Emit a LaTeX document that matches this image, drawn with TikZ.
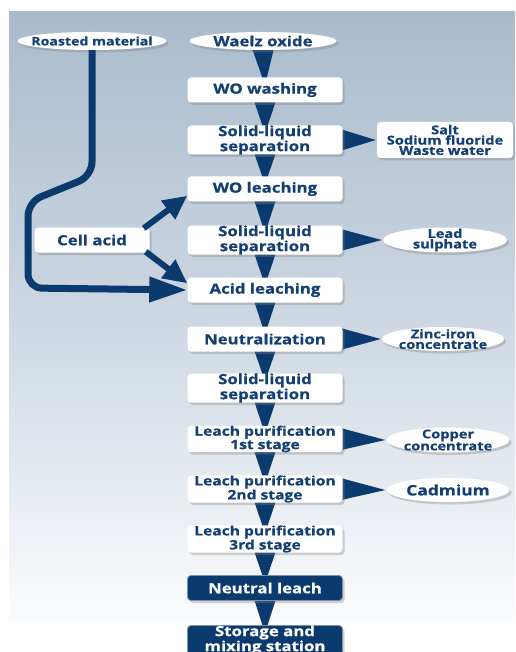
\documentclass[tikz,border=0pt]{standalone}
\usepackage{fontspec}
\setmainfont{Open Sans}[BoldFeatures={FakeBold=0.6,FakeStretch=1.2}]
\usetikzlibrary{shapes.geometric,arrows.meta,calc,shadows}
\pgfdeclarelayer{bg}
\pgfdeclarelayer{arr}
\pgfsetlayers{bg,arr,main}
\definecolor{navy}{HTML}{0B3A6E}
\definecolor{txtc}{HTML}{143F73}
\definecolor{bgtop}{HTML}{A9BBCD}
\definecolor{bgmid}{HTML}{CDD7E2}
\definecolor{bgbot}{HTML}{FBFCFD}
\tikzset{
  shd/.style={drop shadow={shadow xshift=2pt, shadow yshift=-2.5pt, opacity=0.35}},
  proc/.style={rectangle, rounded corners=3.5pt, fill=white, minimum width=155pt, minimum height=25pt,
    inner sep=0pt, align=center, text=txtc, font=\fontsize{14}{11.7}\selectfont\bfseries, shd},
  onel/.style={font=\fontsize{14}{12}\selectfont\bfseries},
  leach/.style={font=\fontsize{13}{11.5}\selectfont\bfseries},
  dproc/.style={proc, fill=navy, draw=navy!55!white, line width=0.8pt, text=white},
  oval/.style={ellipse, fill=white, inner sep=0pt, shd},
  sidetxt/.style={align=center, text=txtc, inner sep=0pt, font=\fontsize{12.2}{10.5}\selectfont\bfseries},
  sidebox/.style={rectangle, rounded corners=3.5pt, fill=white, minimum width=136pt, minimum height=36pt,
    inner sep=0pt, align=center, text=txtc, font=\fontsize{12.2}{10.3}\selectfont\bfseries, shd},
  flow/.style={navy, line width=7pt},
}
\begin{document}
\begin{tikzpicture}[x=1pt,y=-1pt]
\useasboundingbox (0,0) rectangle (515,652);
\begin{pgfonlayer}{bg}
\fill[white] (0,0) rectangle (515,652);
\shade[top color=bgtop, bottom color=bgbot, middle color=bgmid] (9,12) rectangle (515,622);
\end{pgfonlayer}

% source ovals
\node[oval, minimum width=149pt, minimum height=18pt, label={[sidetxt, font=\fontsize{11.8}{12}\selectfont\bfseries]center:Roasted material}] (ro) at (92,41) {};
\node[oval, minimum width=147pt, minimum height=18pt, label={[sidetxt, font=\fontsize{14}{12}\selectfont\bfseries]center:Waelz oxide}] (wo) at (263,41) {};

% main column
\node[proc, onel] (wash) at (265,90) {WO washing};
\node[proc] (sl1) at (265,140) {Solid-liquid\\separation};
\node[proc, onel] (wol) at (265,189) {WO leaching};
\node[proc] (sl2) at (265,240) {Solid-liquid\\separation};
\node[proc, onel] (acid) at (265,290) {Acid leaching};
\node[proc, onel] (neut) at (265,339) {Neutralization};
\node[proc] (sl3) at (265,388) {Solid-liquid\\separation};
\node[proc, leach] (lp1) at (265,439) {Leach purification\\1st stage};
\node[proc, leach] (lp2) at (265,489) {Leach purification\\2nd stage};
\node[proc, leach] (lp3) at (265,539) {Leach purification\\3rd stage};
\node[dproc, onel] (nl) at (265,588) {Neutral leach};
\node[dproc, font=\fontsize{14}{11.5}\selectfont\bfseries] (st) at (265,640) {Storage and\\mixing station};

% side outputs
\node[sidebox] (salt) at (445,140) {Salt\\Sodium fluoride\\Waste water};
\node[oval, minimum width=124pt, minimum height=25pt, label={[sidetxt]center:Lead\\sulphate}] (lead) at (445,240) {};
\node[oval, minimum width=122pt, minimum height=24pt, label={[sidetxt]center:Zinc-iron\\concentrate}] (zinc) at (443,339) {};
\node[oval, minimum width=123pt, minimum height=25pt, label={[sidetxt]center:Copper\\concentrate}] (copper) at (448,440) {};
\node[oval, minimum width=123pt, minimum height=24pt, label={[sidetxt, font=\fontsize{14.5}{12}\selectfont\bfseries]center:Cadmium}] (cad) at (448,490) {};

% cell acid
\node[proc, onel, minimum width=115pt] (cell) at (92,240) {Cell acid};

\begin{pgfonlayer}{arr}
% down arrows (tips hidden under the next box)
\foreach \a/\b in {wo/wash, wash/sl1, sl1/wol, wol/sl2, sl2/acid, acid/neut, neut/sl3, sl3/lp1, lp1/lp2, lp2/lp3, lp3/nl, nl/st}
  \fill[navy] ($(\a.south)+(-11,-2)$) -- ($(\a.south)+(11,-2)$) -- ($(\b.north)+(0,8)$) -- cycle;

% side arrows
\foreach \a/\b in {sl1/salt, sl2/lead, neut/zinc, lp1/copper, lp2/cad}
  \fill[navy] ($(\a.east)+(-6,-12)$) -- ($(\a.east)+(-6,12)$) -- ($(\b.west)+(-1,0)$) -- cycle;
\end{pgfonlayer}

% roasted material route
\draw[flow, rounded corners=14pt, -{Triangle[length=38pt,width=24pt]}]
  (ro.south) -- (92,176) -- (28,202) -- (28,288) -- (acid.west);

% cell acid arrows
\draw[navy, line width=6pt, -{Triangle[length=24pt,width=22pt]}]
  ($(cell.north east)+(-6,1)$) -- ($(wol.south west)+(0,-6)$);
\draw[navy, line width=6pt, -{Triangle[length=24pt,width=22pt]}]
  ($(cell.south east)+(-4,-1)$) -- ($(acid.north west)+(0,6)$);
\end{tikzpicture}
\end{document}
